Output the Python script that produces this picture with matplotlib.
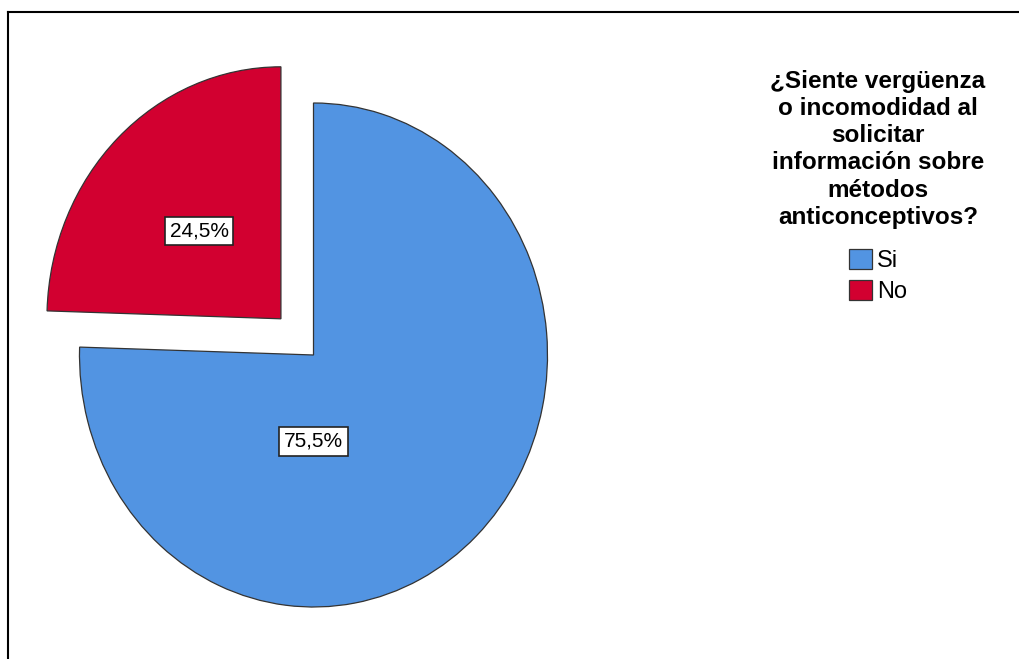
import matplotlib
matplotlib.use("Agg")
import matplotlib.pyplot as plt
from matplotlib.lines import Line2D

W, H = 1020, 659

categories = ["Si", "No"]
percents = [75.5, 24.5]
colors = ["#5294E2", "#D20030"]
legend_title = ("¿Siente vergüenza\no incomodidad al\nsolicitar\n"
                "información sobre\nmétodos\nanticonceptivos?")

# pie centre and radii in pixels (the pie is slightly stretched vertically)
CX, CY, RX, RY = 313.5, 355, 234, 252

FONT = ["Liberation Sans", "DejaVu Sans"]

fig = plt.figure(figsize=(W / 100, H / 100), dpi=100)
ax = fig.add_axes([0, 0, 1, 1])

wedges, _ = ax.pie(
    percents,
    colors=colors,
    explode=[0, 0.2],
    startangle=90,
    counterclock=False,
    wedgeprops=dict(edgecolor="#333333", linewidth=0.9),
)
ax.set_xlim(-CX / RX, (W - CX) / RX)
ax.set_ylim((CY - H) / RY, CY / RY)
ax.set_aspect("auto")
ax.axis("off")

# percentage labels, placed like SPSS does
label_pos = [(0.0, -0.343), (-0.489, 0.492)]
for (x, y), p in zip(label_pos, percents):
    ax.text(
        x, y, f"{p:.1f}%".replace(".", ","),
        ha="center", va="center", fontsize=15, family=FONT,
        bbox=dict(boxstyle="square,pad=0.22", fc="white", ec="#222222", lw=1.2),
    )

# legend heading drawn separately so the gap to the entries can be set
fig.text(878 / W, 1 - 70 / H, legend_title, ha="center", va="top",
         multialignment="center", family=FONT, weight="bold", fontsize=17.5,
         linespacing=1.23)

fig.legend(
    wedges, categories,
    loc="upper center",
    bbox_to_anchor=(878 / W, 1 - 237 / H),
    frameon=False,
    prop=dict(family=FONT, size=17),
    handlelength=0.97,
    handleheight=0.97,
    handletextpad=0.2,
    labelspacing=0.32,
    borderpad=0,
)

# outer frame (top and left edges only)
fig.add_artist(Line2D([8.5 / W, 8.5 / W], [0, 1 - 12 / H], color="black", lw=1.5,
                      transform=fig.transFigure))
fig.add_artist(Line2D([8.5 / W, 1], [1 - 12 / H, 1 - 12 / H], color="black", lw=1.5,
                      transform=fig.transFigure))

fig.savefig("out.png", dpi=100)
